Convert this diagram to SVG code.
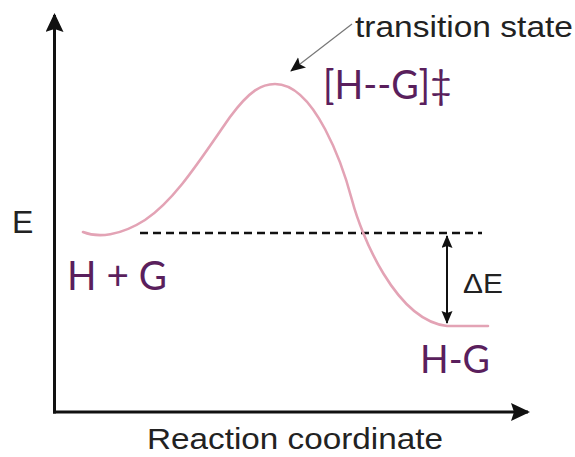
<svg xmlns="http://www.w3.org/2000/svg" width="575" height="457" viewBox="0 0 575 457">
<style>
.axis{stroke:#111;stroke-width:3;fill:none}
.curve{stroke:#e3a3b5;stroke-width:2.6;fill:none;stroke-linecap:round}
.dash{stroke:#111;stroke-width:2.6;stroke-dasharray:8 5;fill:none}
.dim{stroke:#111;stroke-width:2;fill:none}
.ptr{stroke:#777;stroke-width:1.2;fill:none}
.lbl{font-family:"Liberation Sans",Arial,sans-serif;fill:#222}
.chem{font-family:Lato,"Open Sans",sans-serif;fill:#5a1f5d}
</style>
<defs>
<marker id="bigHead" markerUnits="userSpaceOnUse" markerWidth="20" markerHeight="20" refX="17" refY="9" orient="auto">
<path d="M0,0 L19,9 L0,18 L3,9 z" fill="#111"/>
</marker>
<marker id="smallHead" markerUnits="userSpaceOnUse" markerWidth="14" markerHeight="12" refX="12" refY="5.5" orient="auto-start-reverse">
<path d="M0,0 L13,5.5 L0,11 L2,5.5 z" fill="#111"/>
</marker>
<marker id="ptrHead" markerUnits="userSpaceOnUse" markerWidth="16" markerHeight="14" refX="14" refY="6.5" orient="auto">
<path d="M0,0 L15,6.5 L0,13 L3,6.5 z" fill="#111"/>
</marker>
</defs>
<rect width="575" height="457" fill="#fff"/>
<g id="connectors">
<line id="y-axis" class="axis" x1="54.5" y1="413.5" x2="54.5" y2="15" marker-end="url(#bigHead)"/>
<line id="x-axis" class="axis" x1="53" y1="412" x2="528" y2="412" marker-end="url(#bigHead)"/>
<line id="baseline" class="dash" x1="140" y1="233" x2="482" y2="233"/>
<line id="delta-arrow" class="dim" x1="447" y1="236" x2="447" y2="323" marker-start="url(#smallHead)" marker-end="url(#smallHead)"/>
<line id="ts-pointer" class="ptr" x1="352" y1="24" x2="291" y2="71" marker-end="url(#ptrHead)"/>
</g>
<g id="energy-curve">
<path class="curve" d="M83,232 C98,238 120,236 145,220 C175,200 200,160 230,117 C250,90 262,84 275,84 C315,84 343,166 352,200 C361,234 395,320 447,326 L488,326"/>
</g>
<g id="label-E"><text class="lbl" x="12" y="233" font-size="32">E</text></g>
<g id="label-transition"><text class="lbl" x="355" y="37" font-size="29" textLength="218" lengthAdjust="spacingAndGlyphs">transition state</text></g>
<g id="label-ts"><text class="chem" x="323" y="99" font-size="41" textLength="129" lengthAdjust="spacingAndGlyphs">[H--G]‡</text></g>
<g id="label-reactants"><text class="chem" x="67" y="290" font-size="41" textLength="100" lengthAdjust="spacingAndGlyphs">H + G</text></g>
<g id="label-product"><text class="chem" x="420" y="373" font-size="39" textLength="70" lengthAdjust="spacingAndGlyphs">H-G</text></g>
<g id="label-deltaE"><text class="lbl" x="463" y="293" font-size="28" textLength="40" lengthAdjust="spacingAndGlyphs">ΔE</text></g>
<g id="label-xaxis"><text class="lbl" x="147" y="449" font-size="29" textLength="296" lengthAdjust="spacingAndGlyphs">Reaction coordinate</text></g>
</svg>
